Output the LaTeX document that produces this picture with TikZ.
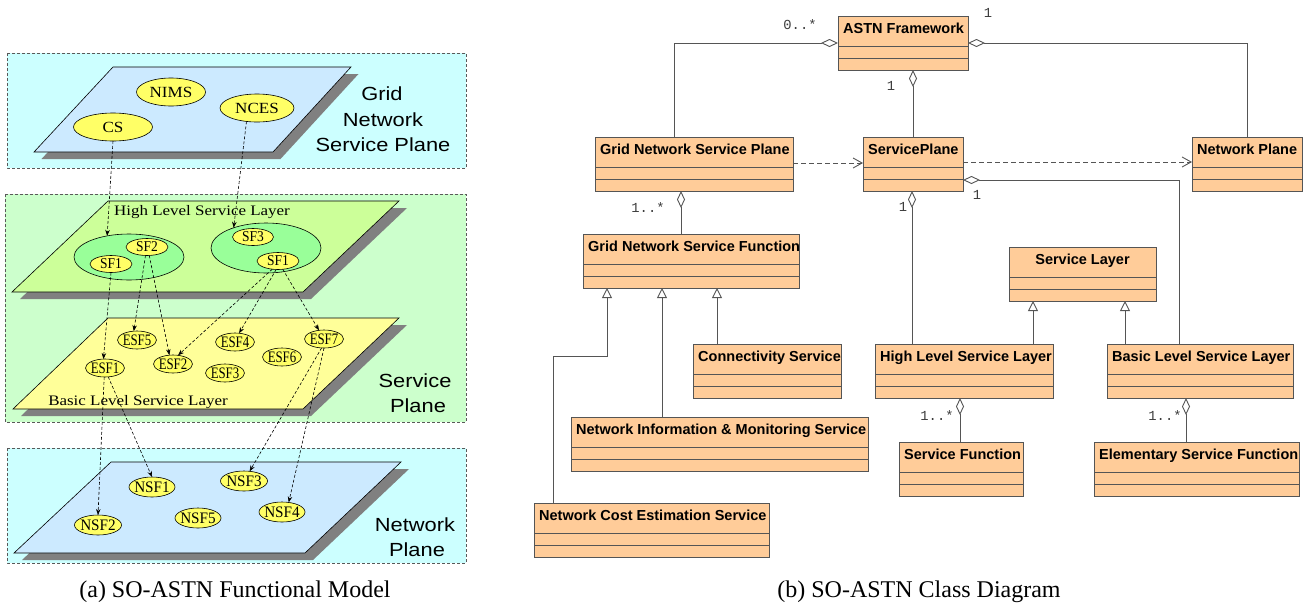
\documentclass[tikz,border=0pt]{standalone}
\usepackage{fontspec}
\usepackage{graphicx}
\setmainfont{Liberation Serif}
\setsansfont{Liberation Sans}
\setmonofont{Liberation Mono}
\usetikzlibrary{arrows.meta,calc,shapes.geometric}

\definecolor{gridcyan}{RGB}{204,255,255}
\definecolor{planeblue}{RGB}{204,234,255}
\definecolor{svcgreen}{RGB}{204,255,204}
\definecolor{highlime}{RGB}{204,255,153}
\definecolor{basicyellow}{RGB}{255,255,153}
\definecolor{groupgreen}{RGB}{153,255,153}
\definecolor{bubbleyellow}{RGB}{255,255,102}
\definecolor{shadowgray}{RGB}{128,128,128}
\definecolor{umlfill}{RGB}{255,204,153}
\definecolor{umlline}{RGB}{85,85,85}
\definecolor{multgray}{RGB}{60,60,60}

% horizontally stretched or condensed text
\newcommand{\widen}[2]{\scalebox{#1}[1]{#2}}
\newcommand{\sflabel}[1]{\makebox[0pt]{\widen{0.9}{#1}}}
\newcommand{\esflabel}[1]{\makebox[0pt]{\widen{0.8}{#1}}}
\newcommand{\nsflabel}[1]{\makebox[0pt]{\widen{0.95}{#1}}}

\tikzset{
  panelbox/.style={draw=black!65, dash pattern=on 3pt off 2pt, line width=0.7pt},
  plane/.style={draw=black, line width=0.6pt},
  bubble/.style={ellipse, draw=black, line width=0.6pt, fill=bubbleyellow,
    inner sep=0pt, outer sep=0pt, font=\fontsize{16}{18}\selectfont},
  sfbubble/.style={bubble, font=\fontsize{15}{17}\selectfont},
  bigbubble/.style={bubble, font=\fontsize{15.5}{18}\selectfont},
  group/.style={ellipse, draw=black, line width=0.6pt, fill=groupgreen,
    inner sep=0pt, outer sep=0pt},
  flow/.style={-{Stealth[length=6pt,width=4.5pt]}, dash pattern=on 3pt off 2pt, line width=0.6pt},
  planelabel/.style={font=\sffamily\fontsize{19}{22}\selectfont, anchor=base, inner sep=0pt},
  layerlabel/.style={font=\fontsize{14.5}{17}\selectfont, anchor=base, inner sep=0pt},
  umlclass/.style={draw=umlline, fill=umlfill, line width=0.9pt, inner sep=0pt,
    outer sep=0pt, anchor=north west, minimum height=54pt},
  umltitle/.style={font=\sffamily\bfseries\fontsize{14.5}{17}\selectfont, inner sep=0pt},
  mult/.style={font=\ttfamily\fontsize{13.8}{16}\selectfont, text=multgray, inner sep=0pt},
  assoc/.style={draw=umlline, line width=0.9pt},
  aggr/.style={assoc, {Diamond[fill=white,length=17pt,width=8pt]}-},
  gener/.style={assoc, -{Triangle[fill=white,length=10pt,width=10pt]}},
  depend/.style={assoc, dash pattern=on 5pt off 3pt, -{Straight Barb[length=9pt,width=10pt]}},
  caption/.style={font=\fontsize{24}{28}\selectfont, anchor=base, inner sep=0pt},
}

% class box: name, left, top, width, title
\newcommand{\classbox}[5]{%
  \node[umlclass, minimum width=#4pt] (#1) at (#2,#3) {};
  \draw[umlline, line width=0.9pt] ($(#1.north west)+(0,30)$) -- ($(#1.north east)+(0,30)$);
  \draw[umlline, line width=0.9pt] ($(#1.north west)+(0,42)$) -- ($(#1.north east)+(0,42)$);
  \node[umltitle, anchor=base west] (#1-title) at ($(#1.north west)+(5,17.5)$) {#5};
}

\begin{document}
\begin{tikzpicture}[x=1pt, y=-1pt]
\useasboundingbox (0,0) rectangle (1307,603);

% ---------------- functional model ----------------
% grid network service plane
\draw[panelbox, fill=gridcyan] (7,53) rectangle (466,168);
\fill[shadowgray, shift={(7.5,7)}] (113,67) -- (351,67) -- (273,152) -- (34,152) -- cycle;
\draw[plane, fill=planeblue] (113,67) -- (351,67) -- (273,152) -- (34,152) -- cycle;
\node[bigbubble, minimum width=69pt, minimum height=28pt] (gNIMS) at (171,92) {\makebox[0pt]{\widen{1.1}{NIMS}}};
\node[bigbubble, minimum width=74pt, minimum height=28pt] (gNCES) at (257,108) {\makebox[0pt]{\widen{1.1}{NCES}}};
\node[bigbubble, minimum width=79pt, minimum height=28pt] (gCS) at (113,127) {\makebox[0pt]{\widen{1.1}{CS}}};
\node[planelabel] (lblGridA) at (382,100) {\widen{1.15}{Grid}};
\node[planelabel] (lblGridB) at (383,126) {\widen{1.15}{Network}};
\node[planelabel] (lblGridC) at (383,151) {\widen{1.15}{Service Plane}};

% service plane
\draw[panelbox, fill=svcgreen] (5,194) rectangle (466,422);
\fill[shadowgray, shift={(8,7)}] (108,201) -- (399,201) -- (303,292) -- (12,292) -- cycle;
\draw[plane, fill=highlime] (108,201) -- (399,201) -- (303,292) -- (12,292) -- cycle;
\node[layerlabel] (lblHigh) at (202,215) {\widen{1.17}{High Level Service Layer}};
\node[group, minimum width=110pt, minimum height=46pt] (grpL) at (129,257) {};
\node[group, minimum width=110pt, minimum height=50pt] (grpR) at (266,248) {};
\node[sfbubble, minimum width=42pt, minimum height=17pt] (sfTwo) at (147,247) {\sflabel{SF2}};
\node[sfbubble, minimum width=42pt, minimum height=17pt] (sfOneL) at (111,264) {\sflabel{SF1}};
\node[sfbubble, minimum width=41pt, minimum height=17pt] (sfThree) at (253,237) {\sflabel{SF3}};
\node[sfbubble, minimum width=42pt, minimum height=17pt] (sfOneR) at (278,261) {\sflabel{SF1}};

\fill[shadowgray, shift={(8,7)}] (108,318) -- (399,318) -- (303,409) -- (13,409) -- cycle;
\draw[plane, fill=basicyellow] (108,318) -- (399,318) -- (303,409) -- (13,409) -- cycle;
\node[layerlabel] (lblBasic) at (138,405) {\widen{1.17}{Basic Level Service Layer}};
\node[bubble, minimum width=39pt, minimum height=18pt] (esfFive) at (137,340) {\esflabel{ESF5}};
\node[bubble, minimum width=39pt, minimum height=18pt] (esfOne) at (105,368) {\esflabel{ESF1}};
\node[bubble, minimum width=39pt, minimum height=18pt] (esfTwo) at (173,364) {\esflabel{ESF2}};
\node[bubble, minimum width=39pt, minimum height=18pt] (esfFour) at (235,342) {\esflabel{ESF4}};
\node[bubble, minimum width=39pt, minimum height=18pt] (esfThree) at (225,373) {\esflabel{ESF3}};
\node[bubble, minimum width=39pt, minimum height=18pt] (esfSix) at (282,357) {\esflabel{ESF6}};
\node[bubble, minimum width=39pt, minimum height=18pt] (esfSeven) at (324,339) {\esflabel{ESF7}};
\node[planelabel] (lblSvcA) at (415,387) {\widen{1.15}{Service}};
\node[planelabel] (lblSvcB) at (418,412) {\widen{1.15}{Plane}};

% network plane
\draw[panelbox, fill=gridcyan] (7,448) rectangle (466,563);
\fill[shadowgray, shift={(8,7)}] (111,462) -- (401,462) -- (305,553) -- (14,553) -- cycle;
\draw[plane, fill=planeblue] (111,462) -- (401,462) -- (305,553) -- (14,553) -- cycle;
\node[bubble, minimum width=46pt, minimum height=20pt] (nsfOne) at (152,487) {\nsflabel{NSF1}};
\node[bubble, minimum width=47pt, minimum height=20pt] (nsfThree) at (244,481) {\nsflabel{NSF3}};
\node[bubble, minimum width=46pt, minimum height=20pt] (nsfFour) at (282,512) {\nsflabel{NSF4}};
\node[bubble, minimum width=46pt, minimum height=20pt] (nsfFive) at (198,518) {\nsflabel{NSF5}};
\node[bubble, minimum width=47pt, minimum height=20pt] (nsfTwo) at (98,525) {\nsflabel{NSF2}};
\node[planelabel] (lblNetA) at (415,531) {\widen{1.15}{Network}};
\node[planelabel] (lblNetB) at (417,556) {\widen{1.15}{Plane}};

% mappings between planes
\draw[flow] (gCS.south) -- (grpL.136);
\draw[flow] (gNCES.232) -- (grpR.148);
\draw[flow] (sfOneL.south) -- (esfOne.100);
\draw[flow] (sfTwo.260) -- (esfFive.110);
\draw[flow] (sfTwo.285) -- (esfTwo.112);
\draw[flow] (sfOneR.235) -- (esfTwo.60);
\draw[flow] (sfOneR.258) -- (esfFour.65);
\draw[flow] (sfOneR.300) -- (esfSeven.120);
\draw[flow] (esfOne.265) -- (nsfTwo.north);
\draw[flow] (esfOne.290) -- (nsfOne.north);
\draw[flow] (esfSeven.255) -- (nsfThree.60);
\draw[flow] (esfSeven.south) -- (nsfFour.55);

\node[caption] (capA) at (235,597) {(a) SO-ASTN Functional Model};

% ---------------- class diagram ----------------
\classbox{astn}{838}{16}{130}{ASTN Framework}
\classbox{gnsp}{595}{137}{198}{Grid Network Service Plane}
\classbox{splane}{863}{137}{100}{ServicePlane}
\classbox{nplane}{1192}{137}{110}{Network Plane}
\classbox{gnsf}{583}{234}{216}{Grid Network Service Function}
\classbox{conn}{693}{344}{148}{Connectivity Service}
\classbox{clsNIMS}{571}{417}{297}{Network Information \& Monitoring Service}
\classbox{clsNCES}{534}{503}{235}{Network Cost Estimation Service}
\node[umlclass, minimum width=147pt] (slayer) at (1009,247) {};
\draw[umlline, line width=0.9pt] ($(slayer.north west)+(0,30)$) -- ($(slayer.north east)+(0,30)$);
\draw[umlline, line width=0.9pt] ($(slayer.north west)+(0,42)$) -- ($(slayer.north east)+(0,42)$);
\node[umltitle, anchor=base] (slayer-title) at ($(slayer.north)+(0,17.5)$) {Service Layer};
\classbox{hlsl}{875}{344}{178}{High Level Service Layer}
\classbox{blsl}{1107}{344}{186}{Basic Level Service Layer}
\classbox{sfunc}{899}{442}{124}{Service Function}
\classbox{esfunc}{1094}{442}{205}{Elementary Service Function}

% aggregations
\draw[aggr] (astn.west) -| ($(gnsp.north west)+(79,0)$);
\draw[aggr] ($(astn.south west)+(75,0)$) -- ($(splane.north west)+(50,0)$);
\draw[aggr] (astn.east) -| ($(nplane.north west)+(55,0)$);
\draw[aggr] ($(splane.north east)+(0,43)$) -| ($(blsl.north west)+(72,0)$);
\draw[aggr] ($(gnsp.south west)+(86,0)$) -- ($(gnsf.north west)+(98,0)$);
\draw[aggr] ($(splane.south west)+(49,0)$) -- ($(hlsl.north west)+(37,0)$);
\draw[aggr] ($(hlsl.south west)+(85,0)$) -- ($(sfunc.north west)+(61,0)$);
\draw[aggr] ($(blsl.south west)+(79,0)$) -- ($(esfunc.north west)+(92,0)$);

% dependencies
\draw[depend] ($(gnsp.north east)+(0,26)$) -- ($(splane.north west)+(0,26)$);
\draw[depend] ($(splane.north east)+(0,25)$) -- ($(nplane.north west)+(0,25)$);

% generalizations
\draw[gener] ($(conn.north west)+(24,0)$) -- ($(gnsf.south west)+(134,0)$);
\draw[gener] ($(clsNIMS.north west)+(91,0)$) -- ($(gnsf.south west)+(79,0)$);
\draw[gener] ($(clsNCES.north west)+(19,0)$) |- ($(gnsf.south west)+(24,68)$) -- ($(gnsf.south west)+(24,0)$);
\draw[gener] ($(hlsl.north west)+(158,0)$) -- ($(slayer.south west)+(24,0)$);
\draw[gener] ($(blsl.north west)+(18,0)$) -- ($(slayer.south west)+(116,0)$);

% multiplicities
\node[mult] (mA) at (800,25) {0..*};
\node[mult] (mB) at (891,86) {1};
\node[mult] (mC) at (988,13) {1};
\node[mult] (mD) at (648,207) {1..*};
\node[mult] (mE) at (903,207) {1};
\node[mult] (mF) at (977,195) {1};
\node[mult] (mG) at (937,415) {1..*};
\node[mult] (mH) at (1165,415) {1..*};

\node[caption] (capB) at (919,597) {(b) SO-ASTN Class Diagram};
\end{tikzpicture}
\end{document}
